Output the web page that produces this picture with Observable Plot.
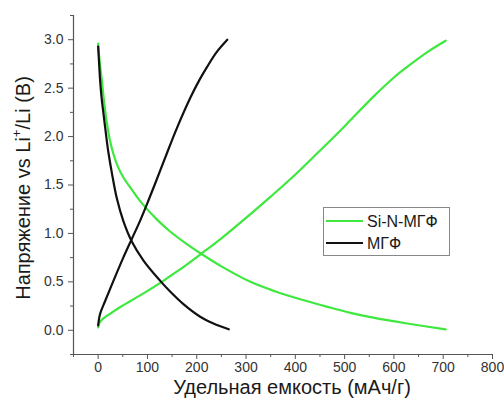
<!DOCTYPE html>
<html>
<head>
<meta charset="utf-8">
<script src="https://cdn.jsdelivr.net/npm/d3@7"></script>
<script src="https://cdn.jsdelivr.net/npm/@observablehq/plot@0.6"></script>
<style>
  html, body { margin: 0; padding: 0; background: #fff; }
  #chart { width: 504px; height: 399px; }
</style>
</head>
<body>
<div id="chart"></div>
<script>
// Series names
const seriesNames = ["Si-N-МГФ", "МГФ"];
const seriesColors = ["#3ee83e", "#111111"];

// Si-N-МГФ: discharge and charge curves [capacity mAh/g, voltage V]
const siDischarge = [[0,2.96],[3,2.78],[7.5,2.58],[12,2.36],[18,2.13],[24,1.96],[31,1.82],[40,1.69],[51,1.58],[70,1.44],[89,1.31],[120,1.14],[146,1.02],[180,0.89],[209,0.79],[250,0.66],[309,0.50],[360,0.40],[410,0.32],[460,0.25],[512,0.18],[558,0.13],[627,0.07],[705,0.01]];
const siCharge = [[0,0.03],[3,0.08],[10,0.12],[24,0.17],[45,0.24],[65,0.30],[85,0.36],[126,0.49],[146,0.56],[172,0.65],[209,0.79],[250,0.95],[309,1.20],[350,1.38],[394,1.58],[445,1.83],[491,2.06],[512,2.17],[558,2.41],[600,2.61],[627,2.72],[670,2.88],[705,2.99]];

// МГФ: discharge and charge curves
const mgfDischarge = [[0,2.93],[2,2.75],[4,2.58],[7,2.40],[11,2.23],[16,2.02],[21,1.83],[28,1.62],[38,1.36],[51,1.13],[68,0.92],[92,0.72],[126,0.51],[146,0.40],[173,0.27],[207,0.14],[234,0.07],[265,0.01]];
const mgfCharge = [[0,0.05],[4,0.17],[14,0.30],[31,0.51],[51,0.75],[68,0.94],[85,1.13],[102,1.34],[126,1.65],[145,1.90],[160,2.09],[187,2.40],[205,2.58],[221,2.72],[240,2.87],[262,3.00]];

// Tick values
const xMajor = [0,100,200,300,400,500,600,700,800];
const xMinor = [-50,50,150,250,350,450,550,650,750];
const yMajor = [0,0.5,1.0,1.5,2.0,2.5,3.0];
const yMinor = [-0.25,0.25,0.75,1.25,1.75,2.25,2.75,3.25];

const xDomain = [-50, 800];
const yDomain = [-0.25, 3.25];

const xLabel = "Удельная емкость (мАч/г)";

function toRows(arr, curve) {
  return arr.map(([cap, v]) => ({cap, v, curve}));
}
const siRows = [...toRows(siDischarge, "d"), ...toRows(siCharge, "c")];
const mgfRows = [...toRows(mgfDischarge, "d"), ...toRows(mgfCharge, "c")];

const axisColor = "#555";
const textColor = "#333";

const chart = Plot.plot({
  width: 504,
  height: 399,
  marginLeft: 73,
  marginRight: 12,
  marginTop: 15,
  marginBottom: 45,
  x: {domain: xDomain},
  y: {domain: yDomain},
  style: {fontFamily: "'Liberation Sans', Arial, sans-serif", background: "white", overflow: "visible"},
  marks: [
    Plot.ruleX([xDomain[0]], {stroke: axisColor, strokeWidth: 1.2}),
    Plot.ruleY([yDomain[0]], {stroke: axisColor, strokeWidth: 1.2}),
    Plot.axisX(xMajor, {tickSize: 5, tickPadding: 3, fontSize: 14, label: null, stroke: axisColor, fill: textColor, tickFormat: d => String(d)}),
    Plot.axisX(xMinor, {tickSize: 3, tickFormat: () => "", label: null, stroke: axisColor}),
    Plot.axisY(yMajor, {tickSize: 5, tickPadding: 5, fontSize: 14, label: null, stroke: axisColor, fill: textColor, tickFormat: d3.format(".1f")}),
    Plot.axisY(yMinor, {tickSize: 3, tickFormat: () => "", label: null, stroke: axisColor}),
    Plot.line(siRows, {x: "cap", y: "v", z: "curve", stroke: seriesColors[0], strokeWidth: 2.2, curve: "catmull-rom"}),
    Plot.line(mgfRows, {x: "cap", y: "v", z: "curve", stroke: seriesColors[1], strokeWidth: 2.2, curve: "catmull-rom"})
  ]
});

document.getElementById("chart").appendChild(chart);

const svg = d3.select(chart);

// X axis title
svg.append("text")
  .attr("x", 292).attr("y", 394)
  .attr("text-anchor", "middle")
  .attr("font-size", 20)
  .attr("fill", "#1a1a1a")
  .text(xLabel);

// Y axis title with superscript
const yt = svg.append("text")
  .attr("transform", "translate(23,188) rotate(-90)")
  .attr("text-anchor", "middle")
  .attr("dominant-baseline", "central")
  .attr("font-size", 20)
  .attr("fill", "#1a1a1a");
yt.append("tspan").text("Напряжение vs Li");
yt.append("tspan").attr("font-size", 13).attr("dy", -7).text("+");
yt.append("tspan").attr("dy", 7).text("/Li (В)");

// Legend box
const lg = svg.append("g");
lg.append("rect")
  .attr("x", 323.5).attr("y", 207.5).attr("width", 126).attr("height", 48)
  .attr("fill", "white").attr("stroke", "#888").attr("stroke-width", 1);
seriesNames.forEach((name, i) => {
  const yy = 221 + i * 22;
  lg.append("line").attr("x1", 326).attr("x2", 363).attr("y1", yy).attr("y2", yy)
    .attr("stroke", seriesColors[i]).attr("stroke-width", 2.2);
  lg.append("text").attr("x", 367).attr("y", yy).attr("dominant-baseline", "central")
    .attr("text-anchor", "start")
    .attr("font-size", 16).attr("fill", "#1a1a1a").text(name);
});
</script>
</body>
</html>
